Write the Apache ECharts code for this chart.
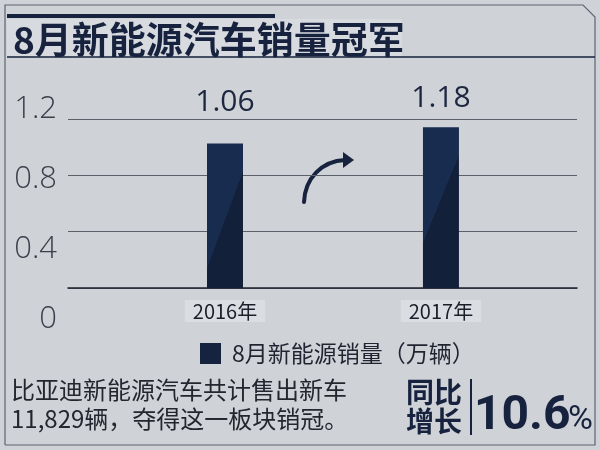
<!DOCTYPE html>
<html><head><meta charset="utf-8">
<script src="https://cdn.jsdelivr.net/npm/echarts@6/dist/echarts.min.js"></script>
<style>html,body{margin:0;padding:0;background:#cfd2d7}#c{width:600px;height:450px}</style>
</head><body><div id="c"></div>
<script>
const categories = ['2016年', '2017年'];
const sales = [1.06, 1.18];
const yTickLabels = [0, 0.4, 0.8, 1.2];
const seriesName = '8月新能源销量（万辆）';
const titleText = '8月新能源汽车销量冠军';
const noteLines = ['比亚迪新能源汽车共计售出新车', '11,829辆，夺得这一板块销冠。'];
const growthLabel = ['同比', '增长'];
const growthValue = '10.6';
const growthUnit = '%';

const NAVY = '#17233e';
const CJK = '"Noto Sans CJK SC", "Noto Sans", sans-serif';
const chart = echarts.init(document.getElementById('c'), null, { renderer: 'canvas' });

const barGradient = {
  type: 'linear', x: 0, y: 0, x2: 2, y2: 0.185, global: false,
  colorStops: [
    { offset: 0, color: '#182c50' }, { offset: 0.565, color: '#182c50' },
    { offset: 0.565, color: '#12203a' }, { offset: 1, color: '#12203a' }
  ]
};
const labelDistances = [26, 14];

const option = {
  backgroundColor: '#cfd2d7',
  animation: false,
  title: {
    text: titleText, left: 8, top: 16,
    textStyle: { fontSize: 37, fontWeight: 'bold', color: NAVY, fontFamily: CJK }
  },
  legend: {
    data: [seriesName], left: 195, top: 337, icon: 'rect', itemWidth: 21, itemHeight: 21,
    itemStyle: { color: '#16233f' },
    textStyle: { fontSize: 23, color: '#1f2430', fontFamily: CJK, padding: [0, 0, 0, 6] }
  },
  grid: [
    { left: 68, right: 23, top: 119, bottom: 162 },
    { left: 68, right: 23, top: 109, bottom: 131 }
  ],
  xAxis: [
    {
      gridIndex: 0, type: 'value', min: 0.273, max: 2.63,
      axisLine: { show: true, lineStyle: { color: '#1e2330', width: 1.5 } },
      axisTick: { show: false }, splitLine: { show: false },
      axisLabel: {
        customValues: categories.map((c, i) => i + 1),
        formatter: v => categories[Math.round(v) - 1] || '',
        fontSize: 20, color: '#1a1f2a', fontFamily: CJK, margin: 12,
        backgroundColor: '#dadde2', padding: [1, 8, 1, 8]
      }
    },
    { gridIndex: 1, type: 'value', show: false, min: 0, max: 1 }
  ],
  yAxis: [
    {
      gridIndex: 0, type: 'value', min: 0, max: 1.24, interval: 1.24 / 3,
      axisLabel: { show: false }, axisLine: { show: false }, axisTick: { show: false },
      splitLine: { lineStyle: { color: '#5b606a', width: 1 } }
    },
    {
      gridIndex: 1, type: 'value', min: 0, max: 1.2, interval: 0.4,
      axisLine: { show: false }, axisTick: { show: false }, splitLine: { show: false },
      axisLabel: {
        customValues: yTickLabels,
        formatter: v => String(v),
        fontSize: 31, fontWeight: 300, color: '#3a404c', fontFamily: '"Open Sans", "Noto Sans", sans-serif', margin: 11
      }
    }
  ],
  series: [{
    name: seriesName, type: 'bar', xAxisIndex: 0, yAxisIndex: 0,
    barWidth: 36,
    data: sales.map((v, i) => ({ value: [i + 1, v], label: { distance: labelDistances[i] } })),
    itemStyle: { color: barGradient },
    label: {
      show: true, position: 'top',
      formatter: p => p.value[1].toFixed(2),
      fontSize: 30, color: '#1d2740', fontFamily: '"Open Sans", "Noto Sans", sans-serif'
    }
  }],
  graphic: [
    { type: 'rect', z: -1, shape: { x: 7, y: 19, width: 395, height: 37 }, style: { fill: '#d7dadf' } },
    { type: 'polyline', shape: { points: [[5, 445], [5, 5], [583, 5], [595, 17], [595, 445], [5, 445]] },
      style: { stroke: '#5d6573', lineWidth: 1.2, fill: null } },
    { type: 'rect', shape: { x: 7, y: 14, width: 268, height: 4 }, style: { fill: NAVY } },
    { type: 'line', shape: { x1: 7, y1: 57, x2: 595, y2: 57 }, style: { stroke: NAVY, lineWidth: 1.5 } },
    { type: 'bezierCurve', shape: { x1: 304, y1: 202, cpx1: 305, cpy1: 178, cpx2: 322, cpy2: 161, x2: 345, y2: 160 },
      style: { stroke: NAVY, lineWidth: 4, fill: null, lineCap: 'round' } },
    { type: 'polygon', shape: { points: [[343, 152], [354, 160], [343, 168]] }, style: { fill: NAVY } },
    { type: 'text', x: 11, y: 390, style: { text: noteLines[0], font: '24px ' + CJK, fill: '#22262f', textVerticalAlign: 'middle' } },
    { type: 'text', x: 11, y: 419, style: { text: noteLines[1], font: '24px ' + CJK, fill: '#22262f', textVerticalAlign: 'middle' } },
    { type: 'text', x: 406, y: 392, style: { text: growthLabel[0], font: 'bold 28px ' + CJK, fill: NAVY, textVerticalAlign: 'middle' } },
    { type: 'text', x: 406, y: 421, style: { text: growthLabel[1], font: 'bold 28px ' + CJK, fill: NAVY, textVerticalAlign: 'middle' } },
    { type: 'line', shape: { x1: 471, y1: 379, x2: 471, y2: 435 }, style: { stroke: NAVY, lineWidth: 2 } },
    { type: 'text', x: 474, y: 417, style: { text: growthValue, font: 'bold 48px Roboto, ' + CJK, fill: NAVY, textVerticalAlign: 'middle' } },
    { type: 'text', x: 568, y: 420, style: { text: growthUnit, font: '34px Roboto, ' + CJK, fill: NAVY, textVerticalAlign: 'middle' } }
  ]
};
chart.setOption(option);
</script>
</body></html>
